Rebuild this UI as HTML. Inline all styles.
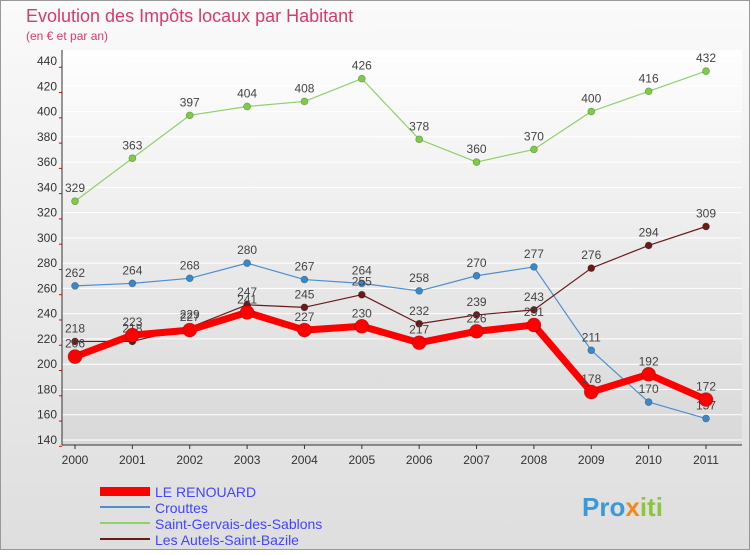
<!DOCTYPE html>
<html><head><meta charset="utf-8"><style>
body{margin:0;width:750px;height:550px;overflow:hidden;font-family:"Liberation Sans",sans-serif}
</style></head><body>
<svg id="c" width="750" height="550" xmlns="http://www.w3.org/2000/svg">
<defs>
<linearGradient id="bg" x1="0" y1="0" x2="0" y2="1"><stop offset="0" stop-color="#fafafa"/><stop offset="1" stop-color="#dedede"/></linearGradient>
<linearGradient id="pg" x1="0" y1="0" x2="0" y2="1"><stop offset="0" stop-color="#fefefe"/><stop offset="1" stop-color="#d8d8d8"/></linearGradient>
</defs>
<rect x="0.5" y="0.5" width="749" height="549" fill="url(#bg)" stroke="#999"/>
<rect x="62" y="50" width="680" height="395" fill="url(#pg)"/>
<text x="26" y="22" font-size="18" fill="#d63b6b">Evolution des Impôts locaux par Habitant</text>
<text x="26" y="40" font-size="12" fill="#d63b6b">(en € et par an)</text>
<g id="grid"></g><g id="axes"></g><g id="series"></g>
<g>
<rect x="100" y="487" width="50" height="9" fill="#ff0000"/>
<text x="155" y="497" font-size="14" fill="#4444ff">LE RENOUARD</text>
<rect x="100" y="506" width="50" height="2" fill="#4e8fcf"/>
<text x="155" y="513" font-size="14" fill="#4444ff">Crouttes</text>
<rect x="100" y="522" width="50" height="2" fill="#8fd16a"/>
<text x="155" y="529" font-size="14" fill="#4444ff">Saint-Gervais-des-Sablons</text>
<rect x="100" y="538" width="50" height="2" fill="#6b1a1a"/>
<text x="155" y="545" font-size="14" fill="#4444ff">Les Autels-Saint-Bazile</text>
</g>
<text x="582" y="516" font-size="26" font-weight="bold" fill="#3a9ad9">Pro<tspan fill="#f08a1a">x</tspan><tspan fill="#8cc63f">iti</tspan></text>
</svg>
<script>
const years=[2000,2001,2002,2003,2004,2005,2006,2007,2008,2009,2010,2011];
const yTicks=[140,160,180,200,220,240,260,280,300,320,340,360,380,400,420,440];
const renouard=[206,223,227,241,227,230,217,226,231,178,192,172];
const crouttes=[262,264,268,280,267,264,258,270,277,211,170,157];
const gervais=[329,363,397,404,408,426,378,360,370,400,416,432];
const autels=[218,218,229,247,245,255,232,239,243,276,294,309];
const NS="http://www.w3.org/2000/svg";
const X=i=>75+(706-75)*(years[i]-2000)/(2011-2000);
const Y=v=>440-(v-140)*(379/300);
function mk(p,t,a){const e=document.createElementNS(NS,t);for(const k in a)e.setAttribute(k,a[k]);p.appendChild(e);return e;}
const grid=document.getElementById('grid'),axes=document.getElementById('axes'),ser=document.getElementById('series');
yTicks.forEach(v=>{
 const l=mk(grid,'line',{x1:62,x2:742,y1:Y(v),y2:Y(v),stroke:'#fff','stroke-width':1});
 
 
 const t=mk(axes,'text',{x:57,y:Y(v)+4,'font-size':12,fill:'#333','text-anchor':'end'});t.textContent=v;
 
 
 const m=mk(axes,'line',{x1:59,x2:62,y1:Y(v)+6.3,y2:Y(v)+6.3,stroke:'#e00'});
 
 
});
const ax=mk(axes,'line',{x1:62,x2:62,y1:50,y2:445,stroke:'#333'});


const bx=mk(axes,'line',{x1:62,x2:742,y1:445,y2:445,stroke:'#333'});


years.forEach((y,i)=>{
 const t=mk(axes,'text',{x:X(i),y:464,'font-size':12,fill:'#333','text-anchor':'middle'});t.textContent=y;
 
 
 const k=mk(axes,'line',{x1:X(i),x2:X(i),y1:445,y2:449,stroke:'#333'});
 
 
});
function series(d,name,col,w,r,dot){
 const g=mk(ser,'g',{});
 
 
 const pl=mk(g,'polyline',{points:d.map((v,i)=>X(i)+','+Y(v)).join(' '),fill:'none',stroke:col,'stroke-width':w,'stroke-linejoin':'round'});
 
 
 d.forEach((v,i)=>{
  const c=mk(g,'circle',{cx:X(i),cy:Y(v),r:r,fill:dot,stroke:'rgba(0,0,0,0.3)','stroke-width':0.7});
  
  
  const t=mk(g,'text',{x:X(i),y:Y(v)-9,'font-size':12,fill:'#444','text-anchor':'middle'});t.textContent=v;
  
  
 });
}
series(gervais,'saint-gervais','#8fd16a',1.2,3.5,'#7ccc44');
series(crouttes,'crouttes','#4e8fcf',1.2,3.5,'#3a88cc');
series(autels,'autels','#6b1a1a',1.2,3.5,'#6b1a1a');
series(renouard,'le-renouard','#ff0000',7,7,'#ff0000');
</script>
</body></html>
